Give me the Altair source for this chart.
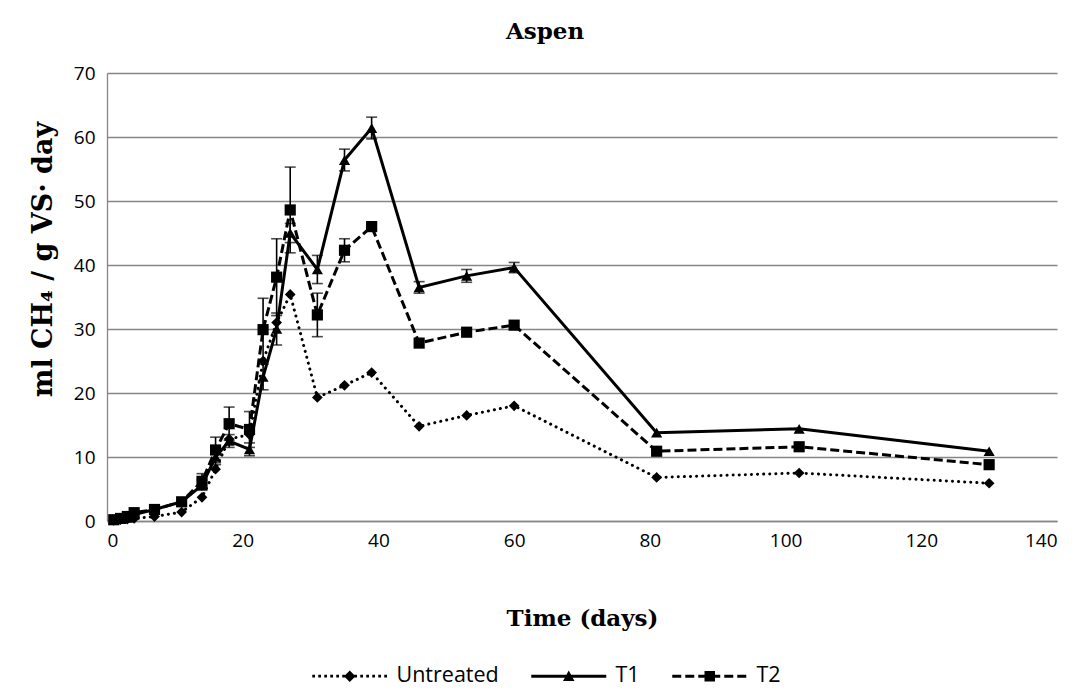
import altair as alt
import pandas as pd

# ---- data ----
days = [1, 2, 3, 4, 7, 11, 14, 16, 18, 21, 23, 25, 27, 31, 35, 39, 46, 53, 60, 81, 102, 130]
untreated = [0.1, 0.2, 0.3, 0.4, 0.7, 1.4, 3.7, 8.1, 12.8, 13.5, 25.0, 31.0, 35.4, 19.3, 21.2, 23.2, 14.8, 16.5, 18.0, 6.8, 7.5, 5.9]
t1 = [0.2, 0.3, 0.5, 1.0, 1.8, 3.0, 5.6, 10.0, 12.5, 11.2, 22.5, 30.0, 45.0, 39.3, 56.4, 61.4, 36.5, 38.3, 39.6, 13.8, 14.4, 10.9]
t2 = [0.2, 0.4, 0.7, 1.3, 1.8, 3.0, 6.2, 11.1, 15.2, 14.3, 29.9, 38.1, 48.6, 32.2, 42.3, 46.0, 27.8, 29.5, 30.6, 10.9, 11.6, 8.8]
t1_err = [0, 0, 0, 0, 0, 0, 0.8, 1.2, 1.0, 1.0, 2.0, 2.5, 1.5, 2.2, 1.7, 1.7, 0.9, 1.0, 0.8, 0, 0, 0]
t2_err = [0, 0, 0, 0, 0, 0, 1.2, 2.0, 2.6, 2.8, 4.9, 6.0, 6.7, 3.4, 1.8, 0.4, 0, 0, 0, 0, 0, 0]
series = ["Untreated", "T1", "T2"]

rows = []
for name, vals, errs in [("Untreated", untreated, [0] * len(days)), ("T1", t1, t1_err), ("T2", t2, t2_err)]:
    for d, v, e in zip(days, vals, errs):
        rows.append({"day": d, "value": v, "err": e, "lo": v - e, "hi": v + e, "series": name})
df = pd.DataFrame(rows)
err_df = df[df["err"] > 0]

# ---- legend symbols: a line sample plus the marker, as filled paths ----
def rect(x0, x1, h=0.3):
    return f"M{x0:.2f},{-h:.2f}L{x1:.2f},{-h:.2f}L{x1:.2f},{h:.2f}L{x0:.2f},{h:.2f}Z"

def dotted(a, b, dot=0.55, step=1.2):
    parts, x = [], a
    while x + dot <= b + 1e-9:
        parts.append(rect(x, x + dot, 0.28))
        x += step
    return "".join(parts)

def dashed(a, b, dash=1.8, gap=0.8):
    parts, x = [], a
    while x < b - 1e-9:
        parts.append(rect(x, min(x + dash, b)))
        x += dash + gap
    return "".join(parts)

diamond = "M0,-1.15L1.15,0L0,1.15L-1.15,0Z"
triangle = "M0,-1.15L1.15,0.95L-1.15,0.95Z"
square = "M-1.05,-1.05L1.05,-1.05L1.05,1.05L-1.05,1.05Z"
L0, L1 = -7.5, 7.5
legend_paths = [
    dotted(L0, L1) + diamond,
    rect(L0, L1) + triangle,
    dashed(L0, L1) + square,
]

x_scale = alt.Scale(domain=[0, 140], nice=False, zero=False)
y_scale = alt.Scale(domain=[0, 70], nice=False)
X = alt.X("day:Q", scale=x_scale,
          axis=alt.Axis(values=list(range(0, 141, 20)), title="Time (days)", grid=False,
                        titleFontSize=23, titlePadding=57))
Y = alt.Y("value:Q", scale=y_scale,
          axis=alt.Axis(values=list(range(0, 71, 10)), title="ml CH₄ / g VS· day", grid=True,
                        titleFontSize=27, titlePadding=16, titleY=186))

base = alt.Chart(df).encode(x=X, y=Y)

def err_layers(name):
    d = alt.datum.series == name
    rule = alt.Chart(err_df).transform_filter(d).mark_rule(color="black", strokeWidth=1.6).encode(
        x=alt.X("day:Q", scale=x_scale), y=alt.Y("lo:Q", scale=y_scale), y2="hi:Q")
    cap_hi = alt.Chart(err_df).transform_filter(d).mark_tick(color="black", thickness=1.6, size=11, orient="horizontal").encode(
        x=alt.X("day:Q", scale=x_scale), y=alt.Y("hi:Q", scale=y_scale))
    cap_lo = alt.Chart(err_df).transform_filter(d).mark_tick(color="black", thickness=1.6, size=11, orient="horizontal").encode(
        x=alt.X("day:Q", scale=x_scale), y=alt.Y("lo:Q", scale=y_scale))
    return [rule, cap_hi, cap_lo]

u_line = base.transform_filter(alt.datum.series == "Untreated").mark_line(
    color="black", strokeWidth=3, strokeDash=[0.1, 6], strokeCap="round")
u_pts = base.transform_filter(alt.datum.series == "Untreated").mark_point(
    shape="diamond", size=115, filled=True, color="black", opacity=1)

t1_line = base.transform_filter(alt.datum.series == "T1").mark_line(color="black", strokeWidth=3)
t1_pts = base.transform_filter(alt.datum.series == "T1").mark_point(
    shape="triangle-up", size=125, filled=True, color="black", opacity=1)

t2_line = base.transform_filter(alt.datum.series == "T2").mark_line(
    color="black", strokeWidth=3, strokeDash=[9, 4])
t2_pts = base.transform_filter(alt.datum.series == "T2").mark_point(
    shape="square", size=125, filled=True, color="black", opacity=1)

legend_layer = base.mark_point(opacity=0, filled=True).encode(
    shape=alt.Shape("series:N", scale=alt.Scale(domain=series, range=legend_paths),
                    legend=alt.Legend(
                        title=None, orient="none", direction="horizontal",
                        legendX=232, legendY=592,
                        symbolSize=100, symbolOpacity=1, symbolFillColor="black",
                        symbolStrokeWidth=0, symbolType="circle",
                        labelOffset=36, columnPadding=32,
                        labelFont="Open Sans", labelFontSize=21.5, labelColor="#000000",
                        padding=0)),
    color=alt.value("black"))

layers = ([u_line, u_pts] + err_layers("T1") + [t1_line, t1_pts] + err_layers("T2") + [t2_line, t2_pts, legend_layer])

chart = alt.layer(*layers).properties(
    width=950, height=448,
    title=alt.TitleParams("Aspen", font="DejaVu Serif", fontSize=23, fontWeight="bold",
                          color="#000000", anchor="middle", dx=-37, offset=20),
    autosize=alt.AutoSizeParams(type="none"),
    padding={"left": 99, "top": 65, "right": 16, "bottom": 174},
).configure_view(stroke=None).configure_axis(
    labelFont="Open Sans", labelFontSize=19, labelColor="#000000",
    titleFont="DejaVu Serif", titleFontWeight="bold", titleColor="#000000",
    domainColor="#868686", domainWidth=1.3, gridColor="#868686", gridWidth=1.3,
    ticks=False,
).configure_axisX(labelPadding=10).configure_axisY(labelPadding=12, domain=True)

chart.save("out.html", embed_options={"renderer": "svg", "actions": False})
